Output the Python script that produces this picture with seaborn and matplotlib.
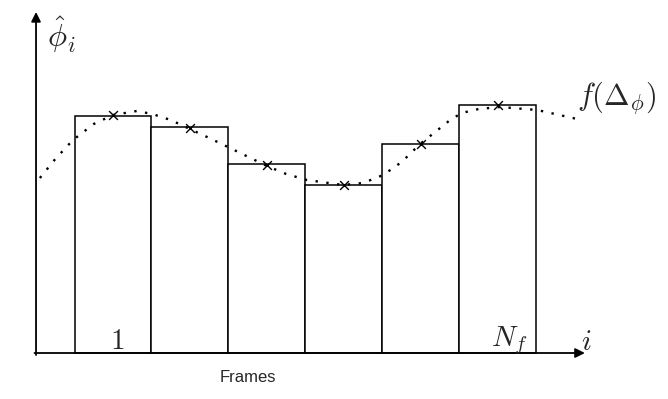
import matplotlib
matplotlib.use("Agg")
import matplotlib.pyplot as plt
import seaborn as sns
import pandas as pd

# bar heights per frame (arbitrary units)
frames = [1, 2, 3, 4, 5, 6]
heights = [2.37, 2.26, 1.89, 1.68, 2.09, 2.48]

# crosses on the fitted curve at frame centres
cross_vals = [2.38, 2.25, 1.88, 1.68, 2.09, 2.48]

# dotted fit curve f(Delta_phi)
curve_x = [0.05, 0.25, 0.48, 0.75, 1.0, 1.31, 1.51, 1.75, 1.97, 2.25, 2.52,
           3.0, 3.25, 3.52, 3.99, 4.25, 4.51, 4.75, 4.99, 5.38, 5.53, 5.75,
           6.03, 6.51, 7.03]
curve_y = [1.75, 1.94, 2.13, 2.29, 2.38, 2.42, 2.39, 2.33, 2.25, 2.15, 2.05,
           1.87, 1.79, 1.73, 1.68, 1.70, 1.78, 1.91, 2.09, 2.33, 2.40, 2.44,
           2.46, 2.43, 2.34]

bars = pd.DataFrame({"frame": frames, "height": heights})
crosses = pd.DataFrame({"frame": frames, "value": cross_vals})
curve = pd.DataFrame({"x": curve_x, "y": curve_y})

sns.set_style("white")
plt.rcParams["mathtext.fontset"] = "cm"

fig = plt.figure(figsize=(6.68, 3.99), dpi=100)
ax = fig.add_axes([0, 0, 1, 1])

sns.barplot(data=bars, x="frame", y="height", native_scale=True, width=1,
            color="white", saturation=1, edgecolor="black", linewidth=1.1,
            ax=ax)
sns.lineplot(data=curve, x="x", y="y", color="black", linewidth=1.7,
             linestyle=(0, (1, 3.6)), ax=ax)
sns.scatterplot(data=crosses, x="frame", y="value", marker="x", s=40,
                color="black", linewidth=1.0, zorder=5, ax=ax)

ax.set_xlim(-0.468, 8.21)
ax.set_ylim(-0.46, 3.53)
for sp in ax.spines.values():
    sp.set_visible(False)
ax.set_xticks([])
ax.set_yticks([])
ax.set_xlabel("")
ax.set_ylabel("")

# axes with arrow heads
arrow = dict(arrowstyle="-|>", color="black", lw=1.3,
             mutation_scale=14, shrinkA=0, shrinkB=0)
ax.annotate("", xy=(7.13, 0.0), xytext=(-0.02, 0.0), arrowprops=arrow)
ax.annotate("", xy=(0.0, 3.41), xytext=(0.0, -0.02), arrowprops=arrow)

ax.text(0.14, 3.18, r"$\hat{\phi}_i$", fontsize=23, ha="left", va="center")
ax.text(7.03, 2.55, r"$f(\Delta_\phi)$", fontsize=22, ha="left", va="center")
ax.text(1.06, 0.12, r"$1$", fontsize=21, ha="center", va="center")
ax.text(6.15, 0.12, r"$N_f$", fontsize=21, ha="center", va="center")
ax.text(7.15, 0.11, r"$i$", fontsize=21, ha="center", va="center")
ax.text(2.75, -0.25, "Frames", fontsize=12, family="Liberation Sans",
        ha="center", va="center")

fig.savefig("out.png", dpi=100, facecolor="white")
